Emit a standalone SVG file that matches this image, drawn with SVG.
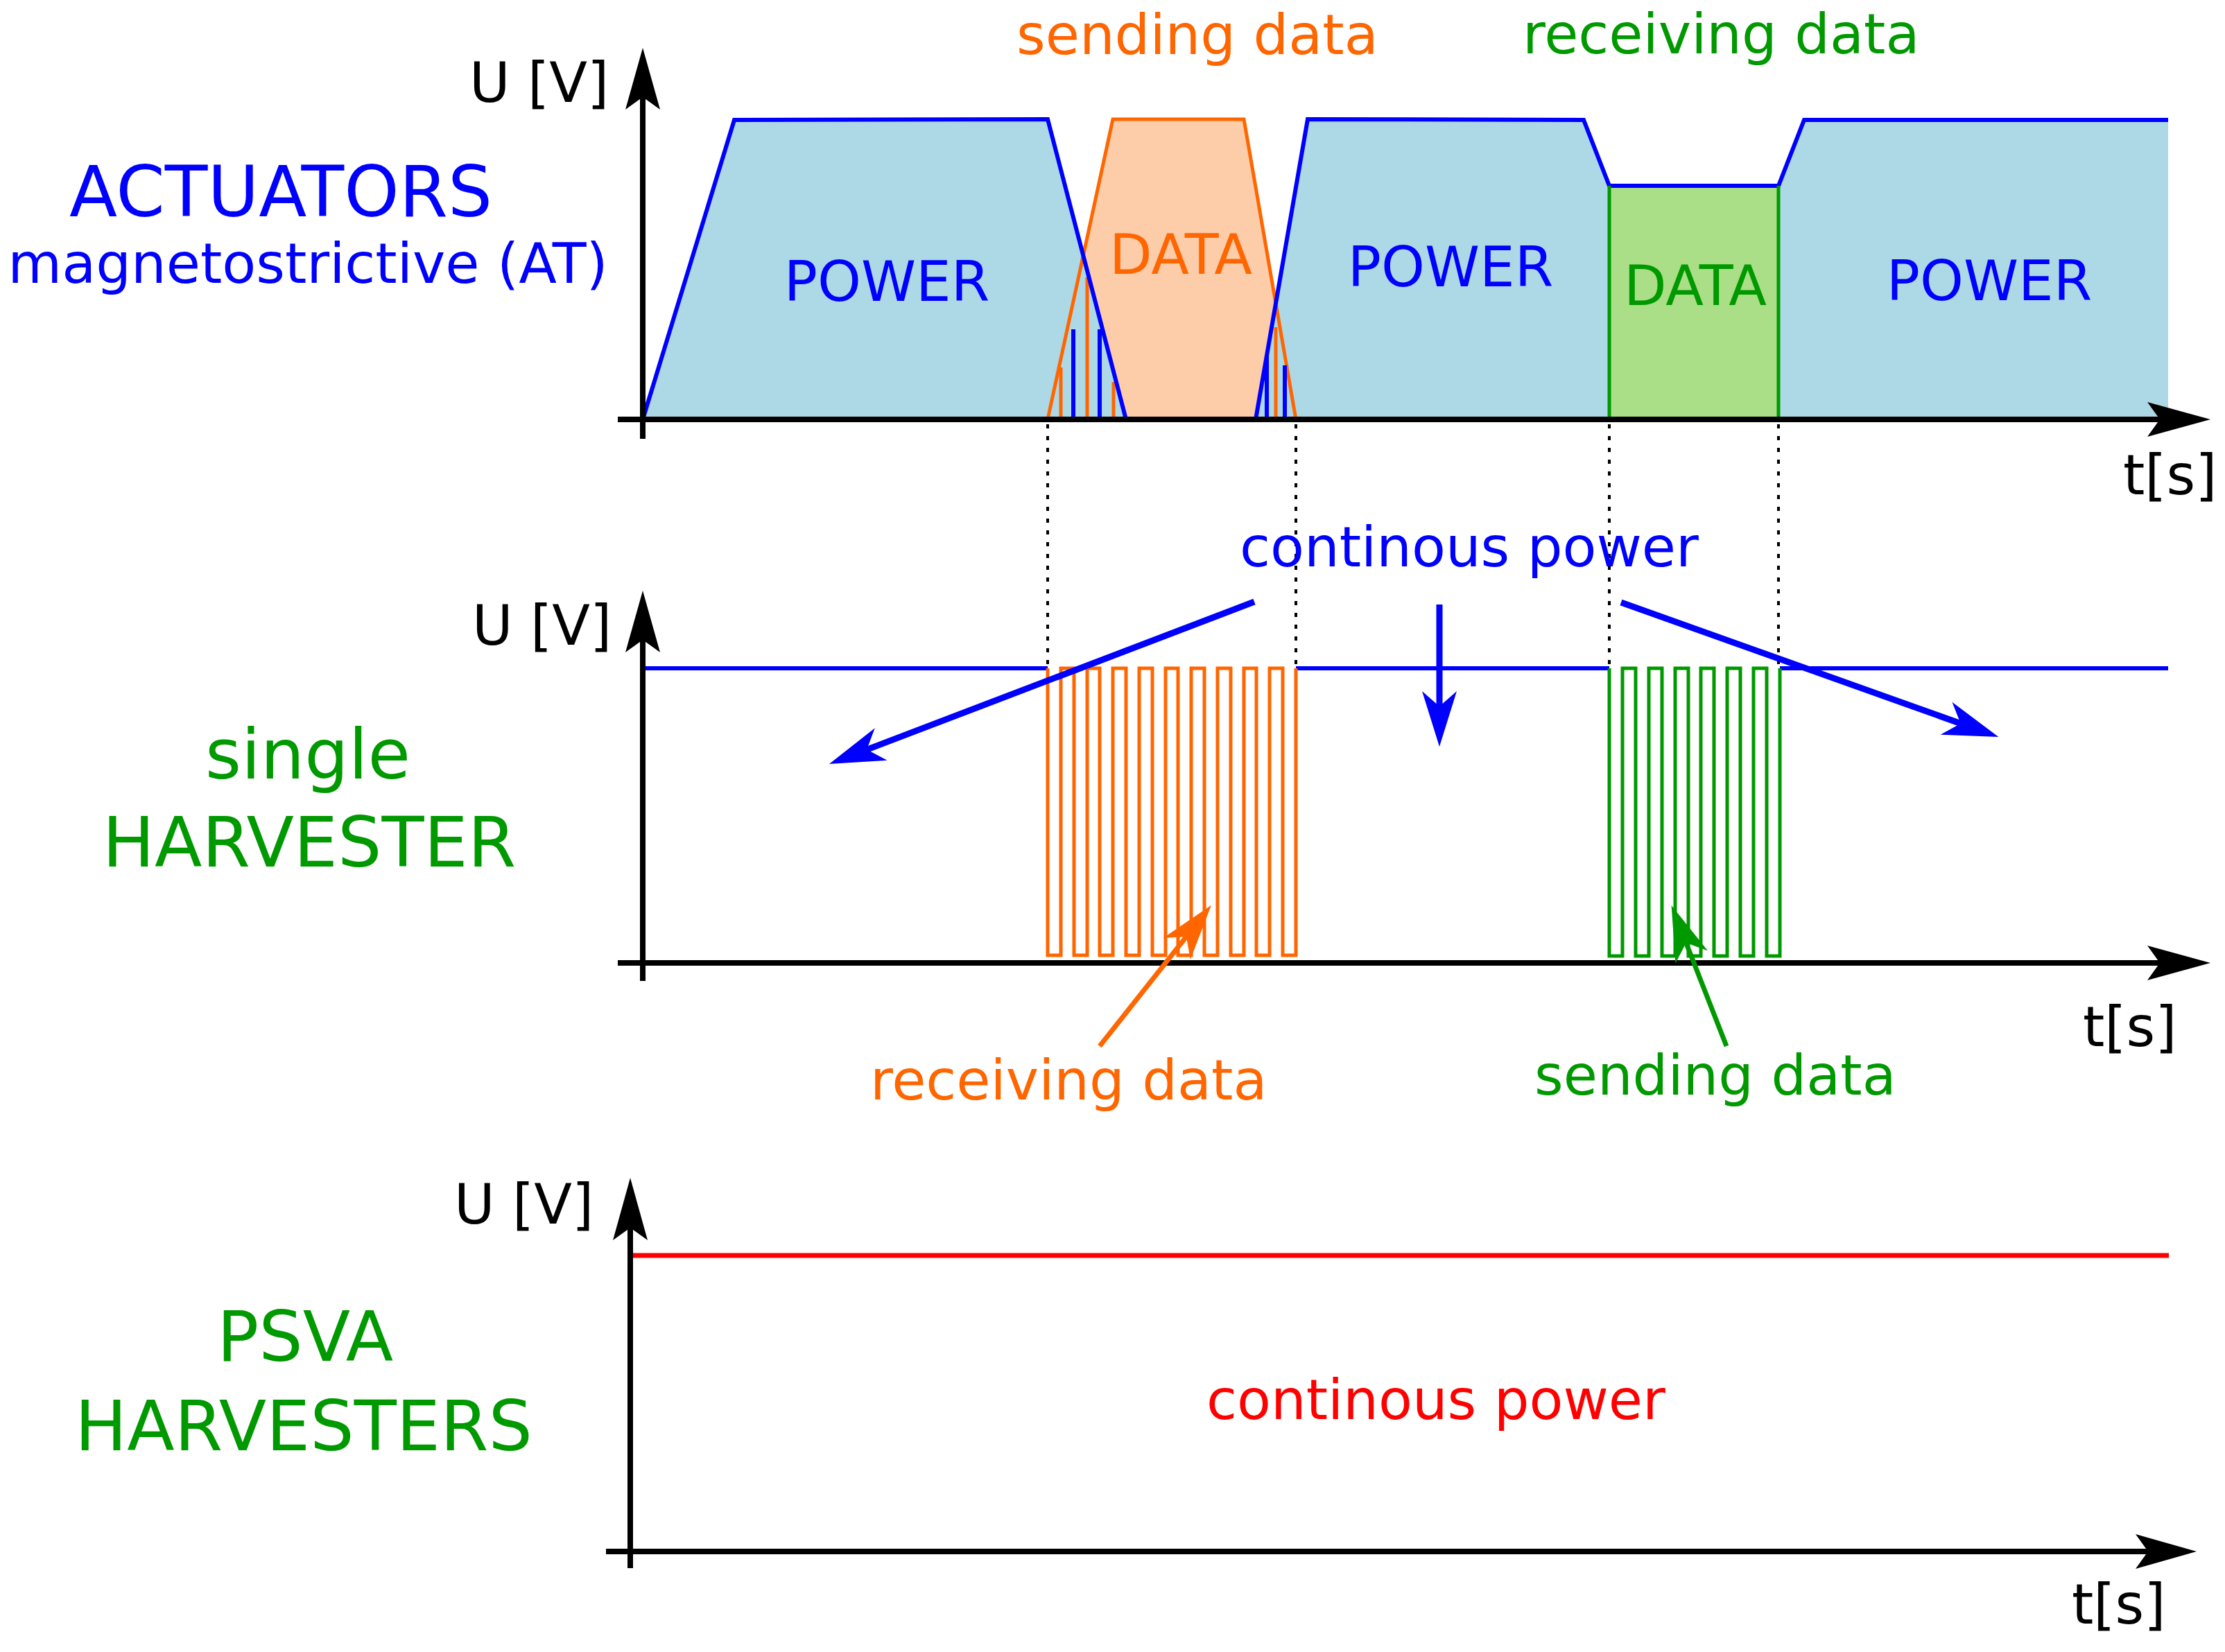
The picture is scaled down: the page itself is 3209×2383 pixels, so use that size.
<svg xmlns="http://www.w3.org/2000/svg" width="3209" height="2383" viewBox="0 0 3209 2383">
<style>
text{font-family:"DejaVu Sans","Liberation Sans",sans-serif;font-size:80px}
.b{fill:#0000ff}.o{fill:#ff6600}.g{fill:#009900}.r{fill:#ff0000}.k{fill:#000}
.big{font-size:100px}
.ax{stroke:#000;stroke-width:8;fill:none}
.dot{stroke:#000;stroke-width:4;stroke-dasharray:6 11;fill:none}
.bl{stroke:#0000ff;stroke-width:6;fill:none}
.ol{stroke:#ff6600;stroke-width:5;fill:none}
.gl{stroke:#009900;stroke-width:5;fill:none}
.arrb{stroke:#0000ff;stroke-width:9;fill:none;marker-end:url(#mb)}
.arro{stroke:#ff6600;stroke-width:7;fill:none;marker-end:url(#mo)}
.arrg{stroke:#009900;stroke-width:7;fill:none;marker-end:url(#mg)}
</style>
<defs>
<marker id="mb" markerUnits="userSpaceOnUse" viewBox="-85 -30 90 60" markerWidth="90" markerHeight="60" refX="-45" refY="0" orient="auto"><path d="M0,0 L-80,-25 L-58,0 L-80,25 Z" fill="#0000ff"/></marker>
<marker id="mo" markerUnits="userSpaceOnUse" viewBox="-85 -30 90 60" markerWidth="90" markerHeight="60" refX="-45" refY="0" orient="auto"><path d="M0,0 L-80,-25 L-58,0 L-80,25 Z" fill="#ff6600"/></marker>
<marker id="mg" markerUnits="userSpaceOnUse" viewBox="-85 -30 90 60" markerWidth="90" markerHeight="60" refX="-45" refY="0" orient="auto"><path d="M0,0 L-80,-25 L-58,0 L-80,25 Z" fill="#009900"/></marker>
</defs>
<rect width="3209" height="2383" fill="#fff"/>

<g id="actuators-chart">
<polygon points="927,605 1059,173 1511,172 1624,605" fill="#add8e6"/>
<polygon points="1811,605 1886,172 2284,173 2321,268 2321,605" fill="#add8e6"/>
<polygon points="2565,605 2565,268 2602,173 3127,173 3127,605" fill="#add8e6"/>
<polygon points="1562,369 1605,172 1794,172 1840,437 1811,605 1624,605" fill="#fdcca8"/>
<rect x="2321" y="268" width="244" height="337" fill="#aade87"/>
<polyline class="ol" points="1511,605 1605,172 1794,172 1869,605"/>
<path class="ol" d="M1530,605V530 M1568,605V400 M1606,605V551 M1840,605V472"/>
<path class="bl" d="M1548,605V475 M1586,605V475 M1827,605V513 M1853,605V527"/>
<polyline class="bl" points="927,605 1059,173 1511,172 1624,605 1811,605 1886,172 2284,173 2321,268 2565,268 2602,173 3127,173"/>
<path class="gl" d="M2321,268V605 M2565,268V605"/>
<text class="b" x="1279" y="434" text-anchor="middle">POWER</text>
<text class="o" x="1703" y="395" text-anchor="middle">DATA</text>
<text class="b" x="2092" y="413" text-anchor="middle">POWER</text>
<text class="g" x="2445" y="440" text-anchor="middle">DATA</text>
<text class="b" x="2869" y="433" text-anchor="middle">POWER</text>
<path class="ax" d="M891,605H3115 M927,633V140"/>
<polygon points="927,69 902,158 927,140 952,158" fill="#000"/>
<polygon points="3188,605 3097,580 3115,605 3097,630" fill="#000"/>
<text class="k" x="677" y="147">U [V]</text>
<text class="k" x="3062" y="713">t[s]</text>
<text class="b big" x="405" y="312" text-anchor="middle" style="font-size:101px">ACTUATORS</text>
<text class="b" x="444" y="408" text-anchor="middle">magnetostrictive (AT)</text>
<text class="o" x="1466" y="78">sending data</text>
<text class="g" x="2196" y="77">receiving data</text>
</g>

<g id="guides">
<path class="dot" d="M1511,612V964 M1869,612V964 M2321,612V964 M2565,612V964"/>
</g>

<g id="harvester-chart">
<path class="bl" d="M927,964H1511 M1869,964H2321 M2567,964H3127"/>
<path class="ol" d="M1511,964 V1378 H1530 V964 H1549 V1378 H1568 V964 H1586 V1378 H1605 V964 H1624 V1378 H1643 V964 H1662 V1378 H1681 V964 H1699 V1378 H1718 V964 H1737 V1378 H1756 V964 H1775 V1378 H1794 V964 H1812 V1378 H1831 V964 H1850 V1378 H1869 V964"/>
<path class="gl" d="M2321,964 V1379 H2340 V964 H2359 V1379 H2378 V964 H2397 V1379 H2416 V964 H2435 V1379 H2453 V964 H2472 V1379 H2491 V964 H2510 V1379 H2529 V964 H2548 V1379 H2567 V964"/>
<path class="ax" d="M891,1389H3115 M927,1415V923"/>
<polygon points="927,852 902,941 927,923 952,941" fill="#000"/>
<polygon points="3188,1389 3097,1364 3115,1389 3097,1414" fill="#000"/>
<text class="k" x="681" y="930">U [V]</text>
<text class="k" x="3004" y="1509">t[s]</text>
<text class="g big" x="444" y="1123" text-anchor="middle">single</text>
<text class="g big" x="446" y="1250" text-anchor="middle">HARVESTER</text>
<text class="b" x="1788" y="817">continous power</text>
<text class="o" x="1255" y="1586">receiving data</text>
<text class="g" x="2213" y="1579">sending data</text>
</g>

<g id="connectors">
<line class="arrb" x1="1809" y1="868" x2="1238" y2="1086"/>
<line class="arrb" x1="2076" y1="872" x2="2076" y2="1032"/>
<line class="arrb" x1="2338" y1="869" x2="2840" y2="1048"/>
<line class="arro" x1="1586" y1="1509" x2="1719" y2="1341"/>
<line class="arrg" x1="2490" y1="1509" x2="2427" y2="1348"/>
</g>

<g id="psva-chart">
<line x1="909" y1="1811" x2="3128" y2="1811" stroke="#ff0000" stroke-width="7"/>
<path class="ax" d="M874,2238H3098 M909,2262V1771"/>
<polygon points="909,1699 884,1789 909,1771 934,1789" fill="#000"/>
<polygon points="3168,2238 3080,2213 3098,2238 3080,2263" fill="#000"/>
<text class="k" x="655" y="1765">U [V]</text>
<text class="k" x="2988" y="2342">t[s]</text>
<text class="g big" x="440" y="1963" text-anchor="middle">PSVA</text>
<text class="g big" x="438" y="2092" text-anchor="middle">HARVESTERS</text>
<text class="r" x="1740" y="2047">continous power</text>
</g>
</svg>
